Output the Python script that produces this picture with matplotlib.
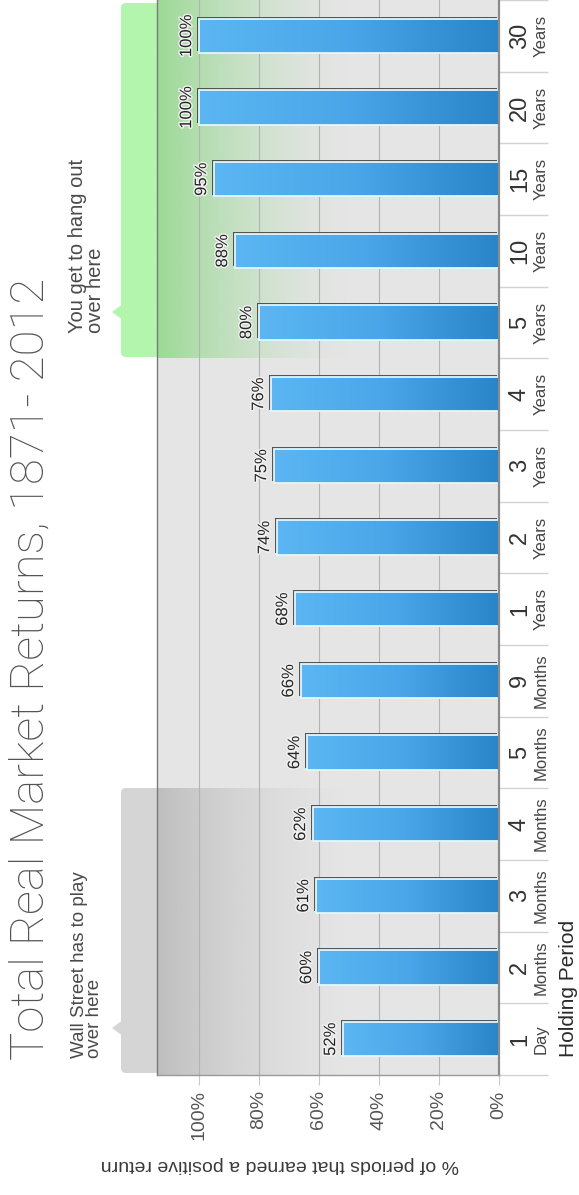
import numpy as np
import matplotlib
matplotlib.use('Agg')
import matplotlib.pyplot as plt
from matplotlib.colors import LinearSegmentedColormap, to_rgb
from matplotlib.patches import FancyBboxPatch, Polygon
import matplotlib.patheffects as pe

# ---------------- data ----------------
period_numbers = ['1', '2', '3', '4', '5', '9', '1', '2', '3', '4', '5', '10', '15', '20', '30']
period_units = ['Day', 'Months', 'Months', 'Months', 'Months', 'Months', 'Years', 'Years',
                'Years', 'Years', 'Years', 'Years', 'Years', 'Years', 'Years']
pct_positive = [52, 60, 61, 62, 64, 66, 68, 74, 75, 76, 80, 88, 95, 100, 100]
x_ticks = [0, 20, 40, 60, 80, 100]
x_ticklabels = ['0%', '20%', '40%', '60%', '80%', '100%']
title = 'Total Real Market Returns, 1871- 2012'
ylabel = '% of periods that earned a positive return'
xlabel = 'Holding Period'
wall_note = 'Wall Street has to play\nover here'
you_note = 'You get to hang out\nover here'
wall_range = (0, 3)     # category indices covered by the grey callout
you_range = (10, 14)    # category indices covered by the green callout

plt.rcParams['font.family'] = ['Liberation Sans', 'DejaVu Sans']

W, H = 579, 1195
fig = plt.figure(figsize=(W / 100, H / 100), dpi=100)
fig.patch.set_facecolor('white')


def fx(px):
    return px / W


def fy(py):
    return 1 - py / H


ax = fig.add_axes([fx(157), fy(1075), fx(499) - fx(157), fy(0) - fy(1075)])
ax.set_facecolor('#e5e5e5')

y = np.arange(len(pct_positive))
bar_h = 0.48


# ---------------- callout overlays inside the frame ----------------
def overlay(color, a0, lo, hi):
    n = 256
    t = np.linspace(0, 1, n)
    rgba = np.zeros((1, n, 4))
    rgba[..., :3] = to_rgb(color)
    rgba[..., 3] = a0 * (1 - t) ** 1.6
    ax.imshow(rgba, extent=(114, 48, lo - 0.5, hi + 0.5), aspect='auto',
              zorder=0.3, interpolation='bilinear')


overlay('#6fd365', 0.62, *you_range)
overlay('#8f8f8f', 0.45, *wall_range)

# ---------------- bars ----------------
bars = ax.barh(y, pct_positive, height=bar_h, color='#3f9de0', zorder=2,
               path_effects=[pe.SimplePatchShadow(offset=(-1.2, 1.3), shadow_rgbFace='#3c3c3c', alpha=0.85),
                             pe.Normal()])
cmap = LinearSegmentedColormap.from_list('barg', ['#2a84c8', '#4aa6e8', '#5cb6f3'])
grad = np.linspace(0, 1, 256).reshape(1, -1)
for b, v, yi in zip(bars, pct_positive, y):
    im = ax.imshow(grad, extent=(0, v, yi - bar_h / 2, yi + bar_h / 2), cmap=cmap,
                   aspect='auto', zorder=2.1, interpolation='bicubic')
    im.set_clip_path(b)
ax.barh(y, pct_positive, height=bar_h, facecolor='none', edgecolor='#e2f6ff',
        linewidth=1.3, zorder=2.2)

# value labels
for yi, v in zip(y, pct_positive):
    ax.annotate(f'{v}%', xy=(v, yi), xytext=(-3.5, 0), textcoords='offset points',
                ha='right', va='center', rotation=90, fontsize=12, color='#262626',
                path_effects=[pe.withStroke(linewidth=2, foreground='#f2f2f2')], zorder=3)

ax.set_xlim(114, 0)
ax.set_ylim(-0.5, len(pct_positive) - 0.5)

# ---------------- axes styling ----------------
ax.set_axisbelow(True)
ax.xaxis.grid(True, color='#b3b3b3', linewidth=0.8)
ax.set_xticks(x_ticks)
ax.set_xticklabels(x_ticklabels, rotation=90, fontsize=14, color='#555555')
ax.tick_params(axis='x', length=7, color='#c8c8c8', pad=4)

ax.yaxis.tick_right()
ax.set_yticks(y)
ax.set_yticklabels([])
ax.set_yticks(np.arange(-0.5, len(pct_positive), 1), minor=True)
ax.tick_params(axis='y', which='major', length=0, right=False, left=False,
               labelright=False, labelleft=False)
ax.tick_params(axis='y', which='minor', length=35, width=1, color='#d2d2d2',
               right=True, left=False)

for side, col, lw in [('left', '#7a7a7a', 1.0), ('right', '#8a8a8a', 1.6),
                      ('bottom', '#9a9a9a', 1.0)]:
    ax.spines[side].set_color(col)
    ax.spines[side].set_linewidth(lw)
ax.spines['top'].set_visible(False)

# category labels
for yi, num, unit in zip(y, period_numbers, period_units):
    ax.annotate(num, xy=(0, yi), xytext=(15, 0), textcoords='offset points',
                rotation=90, ha='center', va='center', fontsize=17, color='#333333',
                annotation_clip=False)
    ax.annotate(unit, xy=(0, yi), xytext=(30.5, 0), textcoords='offset points',
                rotation=90, ha='center', va='center', fontsize=12, color='#444444',
                annotation_clip=False)

# ---------------- callout boxes outside the frame ----------------
def to_in(px, py):
    return px / 100, (H - py) / 100


def callout(py_top, py_bot, py_notch, color):
    x0, y0 = to_in(121, py_bot)
    x1, y1 = to_in(220, py_top)
    box = FancyBboxPatch((x0, y0), x1 - x0, y1 - y0,
                         boxstyle='round,pad=0,rounding_size=0.05',
                         transform=fig.dpi_scale_trans, facecolor=color,
                         edgecolor='none', zorder=-1)
    fig.patches.append(box)
    tri = Polygon([to_in(121.5, py_notch - 7), to_in(112, py_notch), to_in(121.5, py_notch + 7)],
                  closed=True, transform=fig.dpi_scale_trans, facecolor=color,
                  edgecolor='none', zorder=-1)
    fig.patches.append(tri)


callout(3, 357, 312, '#b3f5ad')
callout(788, 1073, 1028, '#d5d5d5')

# ---------------- texts ----------------
fig.text(fx(44), fy(1060), title, rotation=90, rotation_mode='anchor', ha='left', va='baseline',
         fontsize=34, color='#535353', family=['Roboto', 'DejaVu Sans'], fontweight='light')
fig.text(fx(87), fy(1058), wall_note, rotation=90, ha='center', va='bottom',
         multialignment='left', fontsize=13.5, linespacing=0.9, color='#4a4a4a')
fig.text(fx(86.5), fy(333), you_note, rotation=90, ha='center', va='bottom',
         multialignment='left', fontsize=14.5, linespacing=0.93, color='#4a4a4a')
fig.text(fx(569), fy(1057), xlabel, rotation=90, ha='center', va='bottom',
         fontsize=15, color='#2a2a2a')
fig.text(fx(280), fy(1165), ylabel, rotation=180, ha='center', va='center',
         fontsize=14, color='#3a3a3a')

fig.savefig('out.png', dpi=100)
